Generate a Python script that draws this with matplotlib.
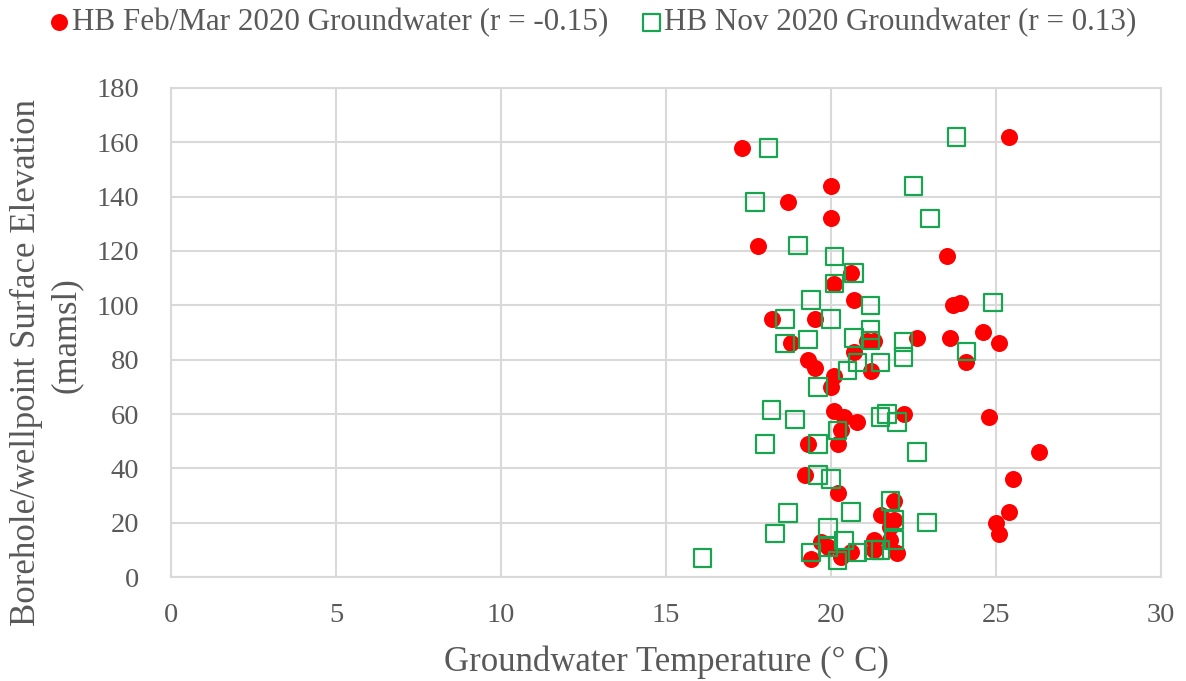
import matplotlib.pyplot as plt

plt.rcParams['font.family'] = ['Liberation Serif', 'DejaVu Serif']

# Feb/Mar 2020 campaign: temperature (deg C) vs surface elevation (mamsl)
feb_temp = [17.3, 25.4, 20.0, 18.7, 20.0, 17.8, 23.5, 20.6, 20.1, 20.7,
            23.7, 23.9, 18.2, 19.5, 18.8, 21.1, 21.3, 22.6, 23.6, 24.6,
            25.1, 20.7, 19.3, 19.5, 24.1, 21.2, 20.1, 20.0, 20.1, 20.4,
            20.8, 20.3, 22.2, 24.8, 19.3, 20.2, 26.3, 19.2, 20.2, 25.5,
            21.9, 25.4, 21.5, 21.9, 21.8, 25.0, 25.1, 19.7, 19.9, 21.3,
            21.8, 19.4, 20.3, 20.6, 21.3, 22.0]
feb_elev = [158, 162, 144, 138, 132, 122, 118, 112, 108, 102,
            100, 101, 95, 95, 86, 87, 87, 88, 88, 90,
            86, 83, 80, 77, 79, 76, 74, 70, 61, 59,
            57, 54, 60, 59, 49, 49, 46, 37.5, 31, 36,
            28, 24, 23, 21, 18.5, 20, 16, 13, 11, 13.5,
            13.5, 6.5, 7.5, 9.3, 10, 9]

# Nov 2020 campaign
nov_temp = [18.1, 23.8, 22.5, 17.7, 23.0, 19.0, 20.1, 20.7, 20.1, 19.4,
            21.2, 24.9, 18.6, 20.0, 21.2, 18.6, 19.3, 20.7, 21.2, 22.2,
            22.2, 24.1, 20.8, 21.5, 20.5, 19.6, 18.2, 18.9, 21.5, 21.7,
            22.0, 20.2, 18.0, 19.6, 22.6, 19.6, 20.0, 21.8, 18.7, 20.6,
            21.9, 22.9, 18.3, 19.9, 20.4, 21.9, 19.4, 19.9, 20.2, 20.8,
            21.3, 21.5, 16.1]
nov_elev = [158, 162, 144, 138, 132, 122, 118, 112, 108, 102,
            100, 101, 95, 95, 91, 86, 87.5, 88, 87, 86.6,
            81, 83, 79, 79, 76, 70, 61.5, 58, 59, 60,
            57, 54, 49, 49, 46, 37.5, 36, 28, 23.5, 24,
            21, 20, 16, 18, 13.4, 13.6, 9, 11, 6, 9,
            10, 10, 7]

feb_label = 'HB Feb/Mar 2020 Groundwater (r = -0.15)'
nov_label = 'HB Nov 2020 Groundwater (r = 0.13)'

grid_col = '#D9D9D9'
text_col = '#595959'

fig = plt.figure(figsize=(11.86, 6.81), dpi=100)
ax = fig.add_axes([0.1442, 0.1527, 0.8348, 0.7181])

ax.scatter(feb_temp, feb_elev, s=150, marker='o', color='#FF0000',
           linewidths=0, label=feb_label, zorder=3)
ax.scatter(nov_temp, nov_elev, s=160, marker='s', facecolors='none',
           edgecolors='#19A54F', linewidths=1.6, label=nov_label, zorder=4)

ax.set_xlim(0, 30)
ax.set_ylim(0, 180)
ax.set_xticks(range(0, 31, 5))
ax.set_yticks(range(0, 181, 20))
ax.grid(color=grid_col, linewidth=1.5)
ax.set_axisbelow(True)
for sp in ax.spines.values():
    sp.set_color(grid_col)
    sp.set_linewidth(1.5)
ax.tick_params(length=0, labelsize=20.5, colors=text_col)
ax.tick_params(axis='y', pad=23)
ax.tick_params(axis='x', pad=19)

ax.set_xlabel('Groundwater Temperature (° C)', fontsize=25, color=text_col,
              labelpad=12)

# the two lines of the y title sit at slightly different heights
fig.text(0.022, 0.467, 'Borehole/wellpoint Surface Elevation', rotation=90,
         ha='center', va='center', fontsize=25, color=text_col)
fig.text(0.0557, 0.508, '(mamsl)', rotation=90,
         ha='center', va='center', fontsize=25, color=text_col)

fig.legend(loc='upper center', bbox_to_anchor=(0.5, 1.006), ncol=2,
           frameon=False, fontsize=22.4, handlelength=0.6, handletextpad=0.1,
           columnspacing=1.1, markerscale=1.0, labelcolor=text_col,
           borderaxespad=0.0)

fig.savefig('out.png', dpi=100)
